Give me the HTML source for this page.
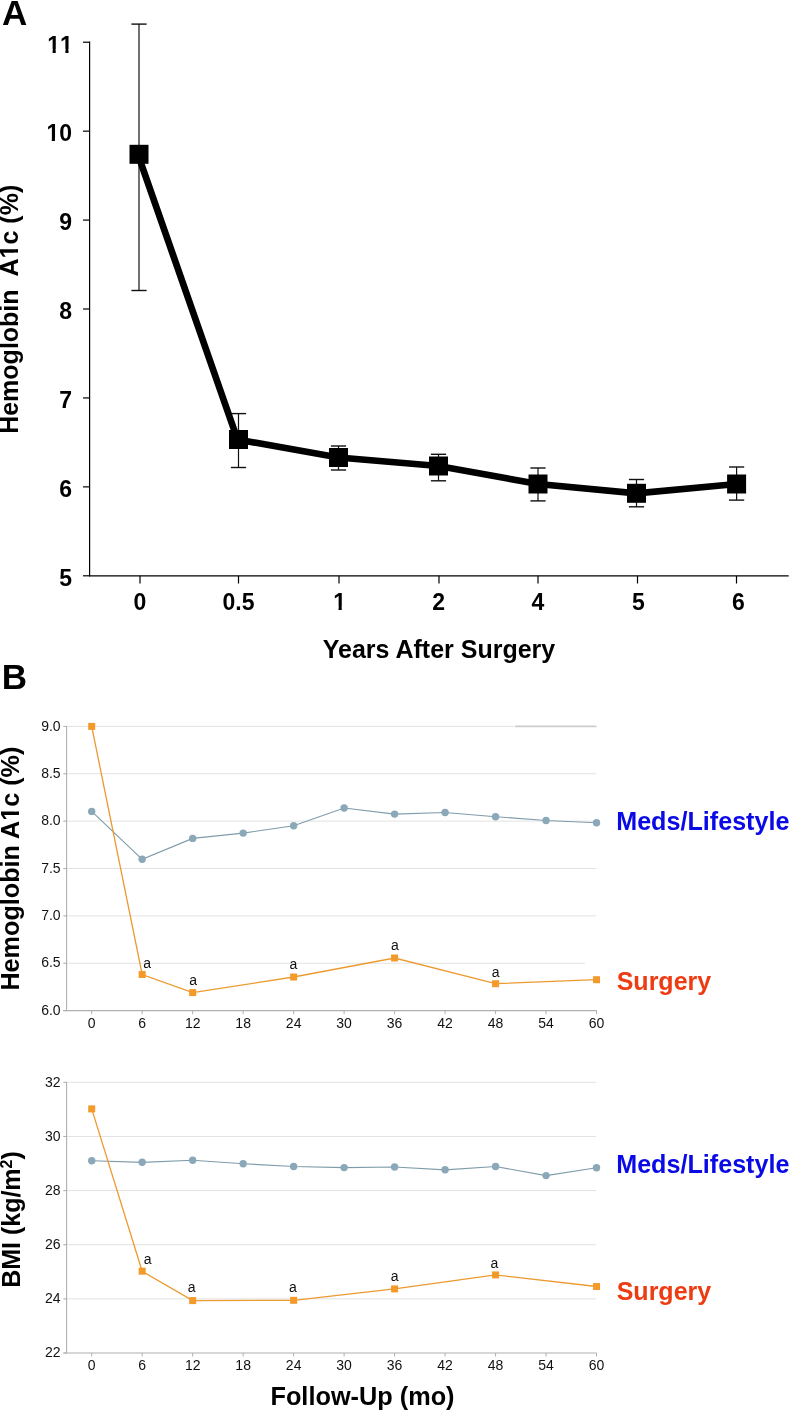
<!DOCTYPE html>
<html><head><meta charset="utf-8"><title>Figure</title>
<style>
html,body{margin:0;padding:0;background:#fff;}
body{width:790px;height:1410px;overflow:hidden;}
svg{display:block;will-change:transform;}
.b{font-family:"Liberation Sans",sans-serif;font-weight:bold;fill:#000;}
.r{font-family:"Liberation Sans",sans-serif;font-weight:normal;fill:#111;}
</style></head><body>
<svg width="790" height="1410" viewBox="0 0 790 1410">
<text x="2" y="25.1" class="b" font-size="35">A</text>
<line x1="89.6" y1="41.62" x2="89.6" y2="576.3" stroke="#000" stroke-width="1.2"/>
<line x1="83" y1="575.8" x2="89.6" y2="575.8" stroke="#000" stroke-width="1.2"/>
<text x="72" y="586.1" class="b" font-size="23" text-anchor="end">5</text>
<line x1="83" y1="486.87" x2="89.6" y2="486.87" stroke="#000" stroke-width="1.2"/>
<text x="72" y="497.17" class="b" font-size="23" text-anchor="end">6</text>
<line x1="83" y1="397.94" x2="89.6" y2="397.94" stroke="#000" stroke-width="1.2"/>
<text x="72" y="408.24" class="b" font-size="23" text-anchor="end">7</text>
<line x1="83" y1="309.01" x2="89.6" y2="309.01" stroke="#000" stroke-width="1.2"/>
<text x="72" y="319.31" class="b" font-size="23" text-anchor="end">8</text>
<line x1="83" y1="220.08" x2="89.6" y2="220.08" stroke="#000" stroke-width="1.2"/>
<text x="72" y="230.38" class="b" font-size="23" text-anchor="end">9</text>
<line x1="83" y1="131.15" x2="89.6" y2="131.15" stroke="#000" stroke-width="1.2"/>
<text x="72" y="141.45" class="b" font-size="23" text-anchor="end">10</text>
<rect x="46.42" y="137.9" width="5.37" height="5.05" fill="#fff"/>
<rect x="54.94" y="137.9" width="4.39" height="5.05" fill="#fff"/>
<line x1="83" y1="42.22" x2="89.6" y2="42.22" stroke="#000" stroke-width="1.2"/>
<text x="72.8" y="52.52" class="b" font-size="23" text-anchor="end" style="font-kerning:none">11</text>
<rect x="47.22" y="48.97" width="5.37" height="5.05" fill="#fff"/>
<rect x="55.74" y="48.97" width="4.39" height="5.05" fill="#fff"/>
<rect x="60.01" y="48.97" width="5.37" height="5.05" fill="#fff"/>
<rect x="68.53" y="48.97" width="4.39" height="5.05" fill="#fff"/>
<line x1="89" y1="575.8" x2="788.7" y2="575.8" stroke="#000" stroke-width="1.2"/>
<line x1="140" y1="575.8" x2="140" y2="583.5" stroke="#000" stroke-width="1.2"/>
<text x="140" y="610.2" class="b" font-size="23" text-anchor="middle">0</text>
<line x1="238.5" y1="575.8" x2="238.5" y2="583.5" stroke="#000" stroke-width="1.2"/>
<text x="238.5" y="610.2" class="b" font-size="23" text-anchor="middle">0.5</text>
<line x1="339" y1="575.8" x2="339" y2="583.5" stroke="#000" stroke-width="1.2"/>
<text x="339.6" y="610.2" class="b" font-size="23" text-anchor="middle">1</text>
<rect x="333.2" y="606.65" width="5.37" height="5.05" fill="#fff"/>
<rect x="341.73" y="606.65" width="4.39" height="5.05" fill="#fff"/>
<line x1="439" y1="575.8" x2="439" y2="583.5" stroke="#000" stroke-width="1.2"/>
<text x="438.7" y="610.2" class="b" font-size="23" text-anchor="middle">2</text>
<line x1="538" y1="575.8" x2="538" y2="583.5" stroke="#000" stroke-width="1.2"/>
<text x="538" y="610.2" class="b" font-size="23" text-anchor="middle">4</text>
<line x1="637.5" y1="575.8" x2="637.5" y2="583.5" stroke="#000" stroke-width="1.2"/>
<text x="638.5" y="610.2" class="b" font-size="23" text-anchor="middle">5</text>
<line x1="736.5" y1="575.8" x2="736.5" y2="583.5" stroke="#000" stroke-width="1.2"/>
<text x="738.3" y="610.2" class="b" font-size="23" text-anchor="middle">6</text>
<text x="439" y="658.1" class="b" font-size="25" text-anchor="middle">Years After Surgery</text>
<g transform="translate(18.3,309.3) rotate(-90)"><text class="b" font-size="25" text-anchor="middle" xml:space="preserve">Hemoglobin  A1c (%)</text><rect x="50.89" y="-3.75" width="5.83" height="5.25" fill="#fff"/>
<rect x="60.16" y="-3.75" width="4.77" height="5.25" fill="#fff"/></g>
<line x1="139" y1="24.1" x2="139" y2="290.5" stroke="#111" stroke-width="1.2"/>
<line x1="131.4" y1="24.1" x2="146.6" y2="24.1" stroke="#111" stroke-width="1.4"/>
<line x1="131.4" y1="290.5" x2="146.6" y2="290.5" stroke="#111" stroke-width="1.4"/>
<line x1="238.5" y1="413.6" x2="238.5" y2="467.5" stroke="#111" stroke-width="1.2"/>
<line x1="230.9" y1="413.6" x2="246.1" y2="413.6" stroke="#111" stroke-width="1.4"/>
<line x1="230.9" y1="467.5" x2="246.1" y2="467.5" stroke="#111" stroke-width="1.4"/>
<line x1="338.5" y1="446" x2="338.5" y2="470" stroke="#111" stroke-width="1.2"/>
<line x1="330.9" y1="446" x2="346.1" y2="446" stroke="#111" stroke-width="1.4"/>
<line x1="330.9" y1="470" x2="346.1" y2="470" stroke="#111" stroke-width="1.4"/>
<line x1="438.5" y1="454.3" x2="438.5" y2="480.8" stroke="#111" stroke-width="1.2"/>
<line x1="430.9" y1="454.3" x2="446.1" y2="454.3" stroke="#111" stroke-width="1.4"/>
<line x1="430.9" y1="480.8" x2="446.1" y2="480.8" stroke="#111" stroke-width="1.4"/>
<line x1="538" y1="468" x2="538" y2="500.9" stroke="#111" stroke-width="1.2"/>
<line x1="530.4" y1="468" x2="545.6" y2="468" stroke="#111" stroke-width="1.4"/>
<line x1="530.4" y1="500.9" x2="545.6" y2="500.9" stroke="#111" stroke-width="1.4"/>
<line x1="636.5" y1="479.5" x2="636.5" y2="506.8" stroke="#111" stroke-width="1.2"/>
<line x1="628.9" y1="479.5" x2="644.1" y2="479.5" stroke="#111" stroke-width="1.4"/>
<line x1="628.9" y1="506.8" x2="644.1" y2="506.8" stroke="#111" stroke-width="1.4"/>
<line x1="736.6" y1="467" x2="736.6" y2="500.1" stroke="#111" stroke-width="1.2"/>
<line x1="729" y1="467" x2="744.2" y2="467" stroke="#111" stroke-width="1.4"/>
<line x1="729" y1="500.1" x2="744.2" y2="500.1" stroke="#111" stroke-width="1.4"/>
<polyline points="137.9,154.3 237.5,439.5 338.5,457.5 438.5,466 538,484 636.5,493.3 736.6,484" fill="none" stroke="#000" stroke-width="6.7" stroke-linejoin="miter"/>
<rect x="129.5" y="144.8" width="19" height="19" fill="#000"/>
<rect x="229" y="430" width="19" height="19" fill="#000"/>
<rect x="329" y="448" width="19" height="19" fill="#000"/>
<rect x="429" y="456.5" width="19" height="19" fill="#000"/>
<rect x="528.5" y="474.5" width="19" height="19" fill="#000"/>
<rect x="627" y="483.8" width="19" height="19" fill="#000"/>
<rect x="727.1" y="474.5" width="19" height="19" fill="#000"/>
<text x="1.7" y="688.7" class="b" font-size="35">B</text>
<line x1="63.4" y1="963.24" x2="585" y2="963.24" stroke="#e2e2e2" stroke-width="1"/>
<line x1="63.4" y1="915.87" x2="596.2" y2="915.87" stroke="#e2e2e2" stroke-width="1"/>
<line x1="63.4" y1="868.5" x2="596.2" y2="868.5" stroke="#e2e2e2" stroke-width="1"/>
<line x1="63.4" y1="821.14" x2="596.2" y2="821.14" stroke="#e2e2e2" stroke-width="1"/>
<line x1="63.4" y1="773.77" x2="596.2" y2="773.77" stroke="#e2e2e2" stroke-width="1"/>
<line x1="63.4" y1="726.41" x2="514" y2="726.41" stroke="#e2e2e2" stroke-width="1"/>
<line x1="515" y1="726.41" x2="596.5" y2="726.41" stroke="#cdcdcd" stroke-width="1.7"/>
<line x1="66.6" y1="726.41" x2="66.6" y2="1010.6" stroke="#b0b0b0" stroke-width="1.1"/>
<line x1="63.4" y1="1010.6" x2="67" y2="1010.6" stroke="#b0b0b0" stroke-width="1"/>
<text x="60.6" y="1014.8" class="r" font-size="14" text-anchor="end">6.0</text>
<line x1="63.4" y1="963.24" x2="67" y2="963.24" stroke="#b0b0b0" stroke-width="1"/>
<text x="60.6" y="967.44" class="r" font-size="14" text-anchor="end">6.5</text>
<line x1="63.4" y1="915.87" x2="67" y2="915.87" stroke="#b0b0b0" stroke-width="1"/>
<text x="60.6" y="920.07" class="r" font-size="14" text-anchor="end">7.0</text>
<line x1="63.4" y1="868.5" x2="67" y2="868.5" stroke="#b0b0b0" stroke-width="1"/>
<text x="60.6" y="872.71" class="r" font-size="14" text-anchor="end">7.5</text>
<line x1="63.4" y1="821.14" x2="67" y2="821.14" stroke="#b0b0b0" stroke-width="1"/>
<text x="60.6" y="825.34" class="r" font-size="14" text-anchor="end">8.0</text>
<line x1="63.4" y1="773.77" x2="67" y2="773.77" stroke="#b0b0b0" stroke-width="1"/>
<text x="60.6" y="777.98" class="r" font-size="14" text-anchor="end">8.5</text>
<line x1="63.4" y1="726.41" x2="67" y2="726.41" stroke="#b0b0b0" stroke-width="1"/>
<text x="60.6" y="730.61" class="r" font-size="14" text-anchor="end">9.0</text>
<line x1="63.4" y1="1010.6" x2="596.7" y2="1010.6" stroke="#b0b0b0" stroke-width="1.2"/>
<line x1="91.7" y1="1010.6" x2="91.7" y2="1014.1" stroke="#b0b0b0" stroke-width="1"/>
<text x="91.7" y="1027.8" class="r" font-size="14" text-anchor="middle">0</text>
<line x1="142.18" y1="1010.6" x2="142.18" y2="1014.1" stroke="#b0b0b0" stroke-width="1"/>
<text x="142.18" y="1027.8" class="r" font-size="14" text-anchor="middle">6</text>
<line x1="192.67" y1="1010.6" x2="192.67" y2="1014.1" stroke="#b0b0b0" stroke-width="1"/>
<text x="192.67" y="1027.8" class="r" font-size="14" text-anchor="middle">12</text>
<line x1="243.15" y1="1010.6" x2="243.15" y2="1014.1" stroke="#b0b0b0" stroke-width="1"/>
<text x="243.15" y="1027.8" class="r" font-size="14" text-anchor="middle">18</text>
<line x1="293.64" y1="1010.6" x2="293.64" y2="1014.1" stroke="#b0b0b0" stroke-width="1"/>
<text x="293.64" y="1027.8" class="r" font-size="14" text-anchor="middle">24</text>
<line x1="344.12" y1="1010.6" x2="344.12" y2="1014.1" stroke="#b0b0b0" stroke-width="1"/>
<text x="344.12" y="1027.8" class="r" font-size="14" text-anchor="middle">30</text>
<line x1="394.6" y1="1010.6" x2="394.6" y2="1014.1" stroke="#b0b0b0" stroke-width="1"/>
<text x="394.6" y="1027.8" class="r" font-size="14" text-anchor="middle">36</text>
<line x1="445.09" y1="1010.6" x2="445.09" y2="1014.1" stroke="#b0b0b0" stroke-width="1"/>
<text x="445.09" y="1027.8" class="r" font-size="14" text-anchor="middle">42</text>
<line x1="495.57" y1="1010.6" x2="495.57" y2="1014.1" stroke="#b0b0b0" stroke-width="1"/>
<text x="495.57" y="1027.8" class="r" font-size="14" text-anchor="middle">48</text>
<line x1="546.06" y1="1010.6" x2="546.06" y2="1014.1" stroke="#b0b0b0" stroke-width="1"/>
<text x="546.06" y="1027.8" class="r" font-size="14" text-anchor="middle">54</text>
<line x1="596.54" y1="1010.6" x2="596.54" y2="1014.1" stroke="#b0b0b0" stroke-width="1"/>
<text x="596.54" y="1027.8" class="r" font-size="14" text-anchor="middle">60</text>
<polyline points="91.7,811.4 142.18,859.3 192.67,838.4 243.15,833.1 293.64,825.7 344.12,808 394.6,814.1 445.09,812.5 495.57,816.7 546.06,820.5 596.54,822.8" fill="none" stroke="#7f9cab" stroke-width="1.15"/>
<circle cx="91.7" cy="811.4" r="3.7" fill="#8aa8b8"/>
<circle cx="142.18" cy="859.3" r="3.7" fill="#8aa8b8"/>
<circle cx="192.67" cy="838.4" r="3.7" fill="#8aa8b8"/>
<circle cx="243.15" cy="833.1" r="3.7" fill="#8aa8b8"/>
<circle cx="293.64" cy="825.7" r="3.7" fill="#8aa8b8"/>
<circle cx="344.12" cy="808" r="3.7" fill="#8aa8b8"/>
<circle cx="394.6" cy="814.1" r="3.7" fill="#8aa8b8"/>
<circle cx="445.09" cy="812.5" r="3.7" fill="#8aa8b8"/>
<circle cx="495.57" cy="816.7" r="3.7" fill="#8aa8b8"/>
<circle cx="546.06" cy="820.5" r="3.7" fill="#8aa8b8"/>
<circle cx="596.54" cy="822.8" r="3.7" fill="#8aa8b8"/>
<polyline points="91.7,726.4 142.18,974.5 192.67,992.6 293.64,977 394.6,958 495.57,983.7 596.54,979.7" fill="none" stroke="#ec9a30" stroke-width="1.3"/>
<rect x="88.2" y="722.9" width="7" height="7" fill="#f39a2b"/>
<rect x="138.68" y="971" width="7" height="7" fill="#f39a2b"/>
<rect x="189.17" y="989.1" width="7" height="7" fill="#f39a2b"/>
<rect x="290.14" y="973.5" width="7" height="7" fill="#f39a2b"/>
<rect x="391.1" y="954.5" width="7" height="7" fill="#f39a2b"/>
<rect x="492.07" y="980.2" width="7" height="7" fill="#f39a2b"/>
<rect x="593.04" y="976.2" width="7" height="7" fill="#f39a2b"/>
<text x="147.1" y="967.6" class="r" font-size="14" text-anchor="middle">a</text>
<text x="193.1" y="984.6" class="r" font-size="14" text-anchor="middle">a</text>
<text x="293.4" y="969.3" class="r" font-size="14" text-anchor="middle">a</text>
<text x="394.9" y="949.5" class="r" font-size="14" text-anchor="middle">a</text>
<text x="495.6" y="976.5" class="r" font-size="14" text-anchor="middle">a</text>
<text x="616.2" y="829.9" class="b" font-size="25.15" style="fill:#0a0ae6">Meds/Lifestyle</text>
<text x="616.7" y="990" class="b" font-size="25" style="fill:#ee3c12">Surgery</text>
<g transform="translate(19,868.6) rotate(-90)"><text class="b" font-size="25.2" text-anchor="middle">Hemoglobin A1c (%)</text><rect x="47.78" y="-3.77" width="5.88" height="5.27" fill="#fff"/>
<rect x="57.12" y="-3.77" width="4.81" height="5.27" fill="#fff"/></g>
<line x1="63.4" y1="1298.86" x2="596.2" y2="1298.86" stroke="#e2e2e2" stroke-width="1"/>
<line x1="63.4" y1="1244.72" x2="596.2" y2="1244.72" stroke="#e2e2e2" stroke-width="1"/>
<line x1="63.4" y1="1190.58" x2="596.2" y2="1190.58" stroke="#e2e2e2" stroke-width="1"/>
<line x1="63.4" y1="1136.44" x2="596.2" y2="1136.44" stroke="#e2e2e2" stroke-width="1"/>
<line x1="63.4" y1="1082.3" x2="596.2" y2="1082.3" stroke="#e2e2e2" stroke-width="1"/>
<line x1="66.6" y1="1082.3" x2="66.6" y2="1353" stroke="#b0b0b0" stroke-width="1.1"/>
<line x1="63.4" y1="1353" x2="67" y2="1353" stroke="#b0b0b0" stroke-width="1"/>
<text x="60.6" y="1357.2" class="r" font-size="14" text-anchor="end">22</text>
<line x1="63.4" y1="1298.86" x2="67" y2="1298.86" stroke="#b0b0b0" stroke-width="1"/>
<text x="60.6" y="1303.06" class="r" font-size="14" text-anchor="end">24</text>
<line x1="63.4" y1="1244.72" x2="67" y2="1244.72" stroke="#b0b0b0" stroke-width="1"/>
<text x="60.6" y="1248.92" class="r" font-size="14" text-anchor="end">26</text>
<line x1="63.4" y1="1190.58" x2="67" y2="1190.58" stroke="#b0b0b0" stroke-width="1"/>
<text x="60.6" y="1194.78" class="r" font-size="14" text-anchor="end">28</text>
<line x1="63.4" y1="1136.44" x2="67" y2="1136.44" stroke="#b0b0b0" stroke-width="1"/>
<text x="60.6" y="1140.64" class="r" font-size="14" text-anchor="end">30</text>
<line x1="63.4" y1="1082.3" x2="67" y2="1082.3" stroke="#b0b0b0" stroke-width="1"/>
<text x="60.6" y="1086.5" class="r" font-size="14" text-anchor="end">32</text>
<line x1="63.4" y1="1353" x2="596.7" y2="1353" stroke="#b0b0b0" stroke-width="1.2"/>
<line x1="91.7" y1="1353" x2="91.7" y2="1356.5" stroke="#b0b0b0" stroke-width="1"/>
<text x="91.7" y="1370.2" class="r" font-size="14" text-anchor="middle">0</text>
<line x1="142.18" y1="1353" x2="142.18" y2="1356.5" stroke="#b0b0b0" stroke-width="1"/>
<text x="142.18" y="1370.2" class="r" font-size="14" text-anchor="middle">6</text>
<line x1="192.67" y1="1353" x2="192.67" y2="1356.5" stroke="#b0b0b0" stroke-width="1"/>
<text x="192.67" y="1370.2" class="r" font-size="14" text-anchor="middle">12</text>
<line x1="243.15" y1="1353" x2="243.15" y2="1356.5" stroke="#b0b0b0" stroke-width="1"/>
<text x="243.15" y="1370.2" class="r" font-size="14" text-anchor="middle">18</text>
<line x1="293.64" y1="1353" x2="293.64" y2="1356.5" stroke="#b0b0b0" stroke-width="1"/>
<text x="293.64" y="1370.2" class="r" font-size="14" text-anchor="middle">24</text>
<line x1="344.12" y1="1353" x2="344.12" y2="1356.5" stroke="#b0b0b0" stroke-width="1"/>
<text x="344.12" y="1370.2" class="r" font-size="14" text-anchor="middle">30</text>
<line x1="394.6" y1="1353" x2="394.6" y2="1356.5" stroke="#b0b0b0" stroke-width="1"/>
<text x="394.6" y="1370.2" class="r" font-size="14" text-anchor="middle">36</text>
<line x1="445.09" y1="1353" x2="445.09" y2="1356.5" stroke="#b0b0b0" stroke-width="1"/>
<text x="445.09" y="1370.2" class="r" font-size="14" text-anchor="middle">42</text>
<line x1="495.57" y1="1353" x2="495.57" y2="1356.5" stroke="#b0b0b0" stroke-width="1"/>
<text x="495.57" y="1370.2" class="r" font-size="14" text-anchor="middle">48</text>
<line x1="546.06" y1="1353" x2="546.06" y2="1356.5" stroke="#b0b0b0" stroke-width="1"/>
<text x="546.06" y="1370.2" class="r" font-size="14" text-anchor="middle">54</text>
<line x1="596.54" y1="1353" x2="596.54" y2="1356.5" stroke="#b0b0b0" stroke-width="1"/>
<text x="596.54" y="1370.2" class="r" font-size="14" text-anchor="middle">60</text>
<polyline points="91.7,1160.8 142.18,1162.3 192.67,1160.3 243.15,1163.7 293.64,1166.5 344.12,1167.6 394.6,1167 445.09,1169.8 495.57,1166.5 546.06,1175.6 596.54,1167.8" fill="none" stroke="#7f9cab" stroke-width="1.15"/>
<circle cx="91.7" cy="1160.8" r="3.7" fill="#8aa8b8"/>
<circle cx="142.18" cy="1162.3" r="3.7" fill="#8aa8b8"/>
<circle cx="192.67" cy="1160.3" r="3.7" fill="#8aa8b8"/>
<circle cx="243.15" cy="1163.7" r="3.7" fill="#8aa8b8"/>
<circle cx="293.64" cy="1166.5" r="3.7" fill="#8aa8b8"/>
<circle cx="344.12" cy="1167.6" r="3.7" fill="#8aa8b8"/>
<circle cx="394.6" cy="1167" r="3.7" fill="#8aa8b8"/>
<circle cx="445.09" cy="1169.8" r="3.7" fill="#8aa8b8"/>
<circle cx="495.57" cy="1166.5" r="3.7" fill="#8aa8b8"/>
<circle cx="546.06" cy="1175.6" r="3.7" fill="#8aa8b8"/>
<circle cx="596.54" cy="1167.8" r="3.7" fill="#8aa8b8"/>
<polyline points="91.7,1108.9 142.18,1271.2 192.67,1300.6 293.64,1300.3 394.6,1288.9 495.57,1274.9 596.54,1286.5" fill="none" stroke="#ec9a30" stroke-width="1.3"/>
<rect x="88.2" y="1105.4" width="7" height="7" fill="#f39a2b"/>
<rect x="138.68" y="1267.7" width="7" height="7" fill="#f39a2b"/>
<rect x="189.17" y="1297.1" width="7" height="7" fill="#f39a2b"/>
<rect x="290.14" y="1296.8" width="7" height="7" fill="#f39a2b"/>
<rect x="391.1" y="1285.4" width="7" height="7" fill="#f39a2b"/>
<rect x="492.07" y="1271.4" width="7" height="7" fill="#f39a2b"/>
<rect x="593.04" y="1283" width="7" height="7" fill="#f39a2b"/>
<text x="147.6" y="1263.8" class="r" font-size="14" text-anchor="middle">a</text>
<text x="191.6" y="1291.5" class="r" font-size="14" text-anchor="middle">a</text>
<text x="293" y="1291.5" class="r" font-size="14" text-anchor="middle">a</text>
<text x="394.7" y="1280.8" class="r" font-size="14" text-anchor="middle">a</text>
<text x="494.5" y="1267.9" class="r" font-size="14" text-anchor="middle">a</text>
<text x="616.2" y="1173.3" class="b" font-size="25.15" style="fill:#0a0ae6">Meds/Lifestyle</text>
<text x="616.7" y="1299.5" class="b" font-size="25" style="fill:#ee3c12">Surgery</text>
<text transform="translate(19.5,1219.5) rotate(-90)" class="b" font-size="25" text-anchor="middle">BMI (kg/m<tspan font-size="16" dy="-7.6">2</tspan><tspan dy="7.6">)</tspan></text>
<text x="362.5" y="1404.7" class="b" font-size="25.3" text-anchor="middle">Follow-Up (mo)</text>
</svg>
</body></html>
